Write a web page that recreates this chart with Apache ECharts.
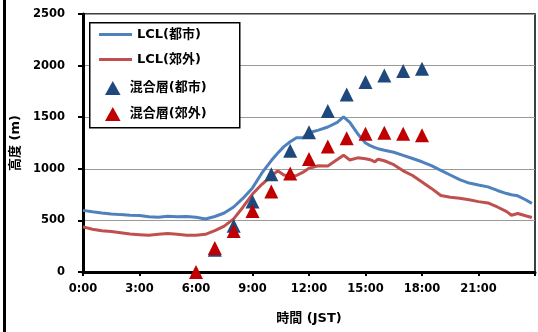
<!DOCTYPE html>
<html>
<head>
<meta charset="utf-8">
<script src="https://cdn.jsdelivr.net/npm/echarts@6/dist/echarts.min.js"></script>
<style>
  html, body { margin: 0; padding: 0; background: #fff; }
  #chart { width: 538px; height: 332px; }
</style>
</head>
<body>
<div id="chart"></div>
<script>
// LCL height through the day (JST), urban and suburban
const lclTimes = ['0:00','0:30','1:00','1:30','2:00','2:30','3:00','3:30','4:00','4:30',
  '5:00','5:30','6:00','6:30','7:00','7:30','8:00','8:30','9:00','9:30','10:00','10:20',
  '10:40','11:00','11:20','11:40','12:00','12:30','13:00','13:30','13:50','14:10','14:35',
  '15:00','15:15','15:30','15:40','16:00','16:30','17:00','17:30','18:00','18:30','19:00',
  '19:30','20:00','20:30','21:00','21:30','22:00','22:30','22:45','23:05','23:30','23:50'];
const lclUrban = [597,583,572,563,556,551,548,535,530,540,
  536,537,530,514,538,572,630,715,815,960,1080,1150,
  1215,1262,1300,1300,1350,1375,1405,1450,1504,1450,1340,
  1250,1225,1205,1195,1180,1160,1130,1100,1068,1030,985,
  940,895,862,843,825,790,760,748,738,700,665];
const lclSuburb = [437,415,400,392,380,368,362,356,365,372,
  366,356,355,365,400,445,515,630,755,850,930,980,
  940,930,935,965,1005,1030,1028,1090,1132,1085,1106,
  1098,1088,1068,1093,1078,1040,980,935,873,810,742,
  725,715,700,682,669,630,585,550,567,545,528];

// Mixed-layer height, hourly
const mlTimesUrban = ['7:00','8:00','9:00','10:00','11:00','12:00','13:00','14:00','15:00','16:00','17:00','18:00'];
const mlUrban = [215,448,683,948,1174,1355,1559,1721,1840,1905,1947,1969];
const mlTimesSuburb = ['6:00','7:00','8:00','9:00','10:00','11:00','12:00','13:00','14:00','15:00','16:00','17:00','18:00'];
const mlSuburb = [0,233,398,590,780,955,1096,1216,1297,1339,1349,1339,1326];

const seriesNames = ['LCL(都市)', 'LCL(郊外)', '混合層(都市)', '混合層(郊外)'];
const xTicks = [0, 3, 6, 9, 12, 15, 18, 21];

function toHours(t) {
  const p = t.split(':');
  return Number(p[0]) + Number(p[1]) / 60;
}
function pairs(times, vals) {
  return times.map((t, i) => [toHours(t), vals[i]]);
}

const FONT = '"DejaVu Sans", "Noto Sans CJK JP", sans-serif';
const TRI = 'path://M5,0 L10,9 L0,9 Z';
const BAR = 'path://M0,0 L33,0 L33,3 L0,3 Z';
const legendText = { fontFamily: FONT, fontWeight: 'bold', fontSize: 13, color: '#000' };

const chart = echarts.init(document.getElementById('chart'), null, { renderer: 'canvas' });
chart.setOption({
  animation: false,
  backgroundColor: '#fff',
  grid: {
    left: 83, right: -3, top: 14, bottom: 60,
    show: true, borderColor: '#000', borderWidth: 1.5, backgroundColor: 'transparent'
  },
  xAxis: {
    type: 'value', min: 0, max: 24, interval: 3,
    name: '時間 (JST)', nameLocation: 'middle', nameGap: 40,
    nameTextStyle: { fontFamily: FONT, fontWeight: 'bold', fontSize: 13, color: '#000' },
    axisLine: { show: true, lineStyle: { color: '#000', width: 3 } },
    axisTick: { show: true, length: 4, lineStyle: { color: '#000', width: 2 } },
    axisLabel: {
      margin: 11, color: '#000', fontFamily: FONT, fontWeight: 'bold', fontSize: 11.5,
      formatter: v => (xTicks.indexOf(v) >= 0 ? v + ':00' : '')
    },
    splitLine: { show: false }
  },
  yAxis: {
    type: 'value', min: 0, max: 2500, interval: 500,
    name: '高度 (m)', nameLocation: 'middle', nameGap: 58,
    nameTextStyle: { fontFamily: FONT, fontWeight: 'bold', fontSize: 13, color: '#000' },
    axisLine: { show: true, lineStyle: { color: '#000', width: 3 } },
    axisTick: { show: true, length: 5, lineStyle: { color: '#000', width: 2 } },
    axisLabel: {
      margin: 18, color: '#000', fontFamily: FONT, fontWeight: 'bold', fontSize: 11.5,
      formatter: v => String(v)
    },
    splitLine: { show: true, lineStyle: { color: '#9a9a9a', width: 1 } }
  },
  legend: [
    {
      data: [
        { name: seriesNames[0], icon: BAR },
        { name: seriesNames[1], icon: BAR }
      ],
      orient: 'vertical', left: 99, top: 28, padding: 0, z: 20,
      itemWidth: 33, itemHeight: 14, itemGap: 12, symbolKeepAspect: true,
      textStyle: legendText
    },
    {
      data: [
        { name: seriesNames[2], icon: TRI },
        { name: seriesNames[3], icon: TRI }
      ],
      orient: 'vertical', left: 105, top: 81, padding: 0, z: 20,
      itemWidth: 24, itemHeight: 14, itemGap: 12, symbolKeepAspect: true,
      textStyle: legendText
    }
  ],
  graphic: [
    {
      type: 'rect', left: 89, top: 22, z: 10,
      shape: { width: 150, height: 105 },
      style: { fill: '#fff', stroke: '#000', lineWidth: 1.5 }
    },
    {
      type: 'rect', left: 3, top: 0, z: 10,
      shape: { width: 3, height: 332 },
      style: { fill: '#000' }
    }
  ],
  series: [
    {
      name: seriesNames[0], type: 'line', data: pairs(lclTimes, lclUrban),
      showSymbol: false, symbol: 'none', z: 2,
      lineStyle: { color: '#4F81BD', width: 3 }, itemStyle: { color: '#4F81BD' }
    },
    {
      name: seriesNames[1], type: 'line', data: pairs(lclTimes, lclSuburb),
      showSymbol: false, symbol: 'none', z: 2,
      lineStyle: { color: '#C0504D', width: 3 }, itemStyle: { color: '#C0504D' }
    },
    {
      name: seriesNames[2], type: 'scatter', data: pairs(mlTimesUrban, mlUrban),
      symbol: 'triangle', symbolSize: [14, 14], z: 3,
      itemStyle: { color: '#1F497D', opacity: 1 }
    },
    {
      name: seriesNames[3], type: 'scatter', data: pairs(mlTimesSuburb, mlSuburb),
      symbol: 'triangle', symbolSize: [14, 14], z: 4,
      itemStyle: { color: '#C00000', opacity: 1 }
    }
  ]
});
</script>
</body>
</html>
